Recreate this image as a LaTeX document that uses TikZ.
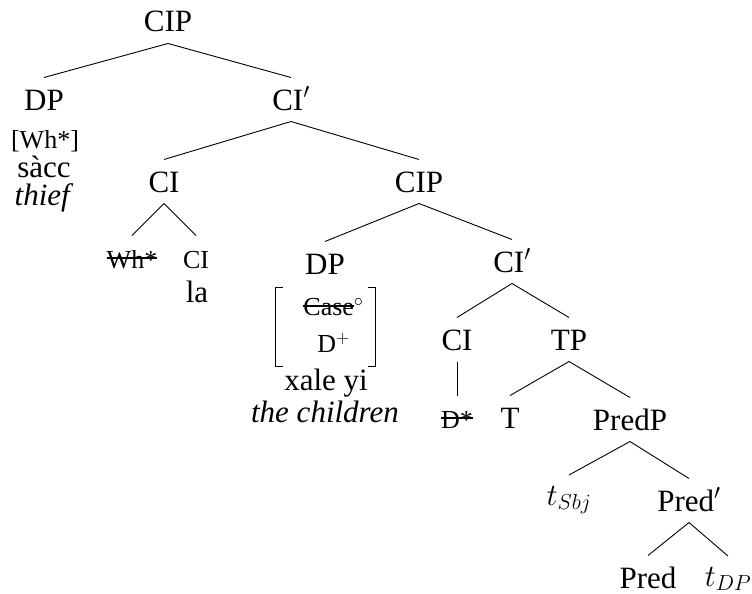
\RequirePackage{fix-cm}
\documentclass[tikz,border=0pt]{standalone}
\usepackage{fontspec}
\setmainfont{Liberation Serif}
\usetikzlibrary{calc}
\newcommand{\bigsz}{\fontsize{31}{37}\selectfont}
\newcommand{\smallsz}{\fontsize{26}{31}\selectfont}
\newcommand{\strk}[1]{\setbox0\hbox{#1}\rlap{\rule[0.36em]{\wd0}{0.055em}}\box0}
\begin{document}
\begin{tikzpicture}[x=1pt,y=-1pt,font=\bigsz,
  tn/.style={anchor=base,inner sep=0pt,text height=21pt,text depth=0pt,outer ysep=11.5pt},
  lbl/.style={anchor=base,inner sep=0pt},
  ln/.style={line width=0.9pt},
  brk/.style={line width=1.3pt}]
\useasboundingbox (0,0) rectangle (752,594);
% nodes
\node[tn] (cipA) at (168,32) {CIP};
\node[tn] (dpA) at (44,110) {DP};
\node[lbl,font=\smallsz] (dpAf) at (45,148) {[Wh*]};
\node[lbl] (dpAw) at (44,177) {sàcc};
\node[lbl] (dpAg) at (44,205) {\textit{thief}};
\node[tn] (ciAbar) at (291,110) {CI$'$};
\node[tn] (ciA) at (164,192) {CI};
\node[tn] (cipB) at (419,192) {CIP};
\node[tn,font=\smallsz] (wh) at (132,268) {\strk{Wh*}};
\node[tn,font=\smallsz] (ciAs) at (196,268) {CI};
\node[lbl] (la) at (197,302) {la};
\node[tn] (dpB) at (325,274) {DP};
\node[inner sep=0pt,minimum width=99pt,minimum height=78pt] (feat) at (325.5,327)
  {\hbox{\hspace{16pt}$\begin{array}{@{}c@{}}\mbox{\smallsz\strk{Case}$^\circ$}\\ \mbox{\smallsz D$^+$}\end{array}$}};
\node[lbl] (xale) at (326,390) {xale yi};
\node[lbl] (child) at (325,422) {\textit{the children}};
\node[tn] (ciBbar) at (512,272) {CI$'$};
\node[tn] (ciB) at (457,350) {CI};
\node[tn] (tp) at (569,350) {TP};
\node[tn,font=\smallsz] (dstar) at (457,428) {\strk{D*}};
\node[tn] (tT) at (510,428) {T};
\node[tn] (predp) at (630,430) {PredP};
\node[tn,text height=18.5pt] (tsbj) at (569,505) {$t_{Sbj}$};
\node[tn] (predbar) at (689,511) {Pred$'$};
\node[tn] (pred) at (648,588) {Pred};
\node[tn,text height=18.5pt] (tdp) at (728,586) {$t_{DP}$};
% brackets of the feature matrix
\draw[brk] ($(feat.north west)+(7,0)$) -- (feat.north west) -- (feat.south west) -- ++(7,0);
\draw[brk] ($(feat.north east)+(-7,0)$) -- (feat.north east) -- (feat.south east) -- ++(-7,0);
% connectors
\draw[ln] (cipA.south) -- (dpA.north);
\draw[ln] (cipA.south) -- (ciAbar.north);
\draw[ln] (ciAbar.south) -- (ciA.north);
\draw[ln] (ciAbar.south) -- (cipB.north);
\draw[ln] (ciA.south) -- (wh.north);
\draw[ln] (ciA.south) -- (ciAs.north);
\draw[ln] (cipB.south) -- (dpB.north);
\draw[ln] (cipB.south) -- (ciBbar.north);
\draw[ln] (ciBbar.south) -- (ciB.north);
\draw[ln] (ciBbar.south) -- (tp.north);
\draw[ln] (ciB.south) -- (dstar.north);
\draw[ln] (tp.south) -- (tT.north);
\draw[ln] (tp.south) -- (predp.north);
\draw[ln] (predp.south) -- (tsbj.north);
\draw[ln] (predp.south) -- (predbar.north);
\draw[ln] (predbar.south) -- (pred.north);
\draw[ln] (predbar.south) -- (tdp.north);
\end{tikzpicture}
\end{document}
